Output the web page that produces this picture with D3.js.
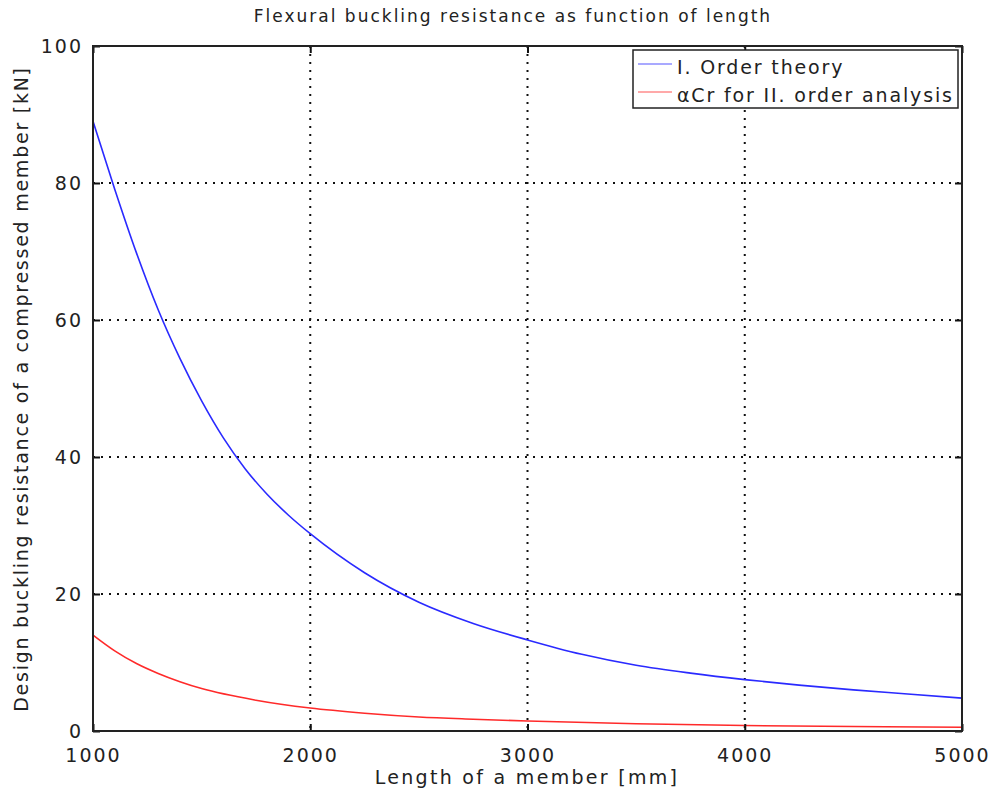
<!DOCTYPE html>
<html><head><meta charset="utf-8">
<script src="https://cdn.jsdelivr.net/npm/d3@7"></script>
<style>
body{margin:0;background:#fff;}
text{font-family:"DejaVu Sans",Verdana,sans-serif;fill:#222;}
</style></head>
<body>
<svg id="chart" width="999" height="796"></svg>
<script>
const lengths = [1000,1100,1200,1300,1400,1500,1600,1700,1800,1900,2000,2250,2500,2750,3000,3250,3500,3750,4000,4250,4500,4750,5000];
const firstOrder = [89,79.1,69.8,61.5,54.4,48.2,42.8,38.3,34.6,31.5,28.8,23.1,18.8,15.7,13.3,11.2,9.6,8.45,7.5,6.7,6.0,5.4,4.8];
const redLengths = [1000,1100,1200,1300,1400,1500,1750,2000,2250,2500,2750,3000,3500,4000,4500,5000];
const alphaCr = [14.0,11.7,9.85,8.4,7.2,6.2,4.5,3.35,2.6,2.05,1.72,1.45,1.05,0.8,0.65,0.55];
const xTicks = [1000,2000,3000,4000,5000];
const yTicks = [0,20,40,60,80,100];
const seriesNames = ["I. Order theory","\u03b1Cr for II. order analysis"];
const title = "Flexural buckling resistance as function of length";
const xLabel = "Length of a member [mm]";
const yLabel = "Design buckling resistance of a compressed member [kN]";

const svg = d3.select("#chart");
const L = 93, R = 962, T = 46, B = 731;
const x = d3.scaleLinear().domain([1000,5000]).range([L,R]);
const y = d3.scaleLinear().domain([0,100]).range([B,T]);

// grid
const g = svg.append("g");
g.selectAll(".gx").data(xTicks.slice(1,-1)).enter().append("line")
  .attr("x1",d=>x(d)).attr("x2",d=>x(d)).attr("y1",T).attr("y2",B)
  .attr("stroke","#111").attr("stroke-width",2).attr("stroke-dasharray","2,6");
g.selectAll(".gy").data(yTicks.slice(1,-1)).enter().append("line")
  .attr("y1",d=>y(d)).attr("y2",d=>y(d)).attr("x1",L).attr("x2",R)
  .attr("stroke","#111").attr("stroke-width",2).attr("stroke-dasharray","2,6");

// curves
const line = d3.line().curve(d3.curveMonotoneX);
svg.append("path").attr("d", line(lengths.map((l,i)=>[x(l),y(firstOrder[i])])))
  .attr("fill","none").attr("stroke","#2a2aff").attr("stroke-width",1.6);
svg.append("path").attr("d", line(redLengths.map((l,i)=>[x(l),y(alphaCr[i])])))
  .attr("fill","none").attr("stroke","#ff2a2a").attr("stroke-width",1.6);

// axes with inward ticks
const fmt = d3.format("d");
const xb = svg.append("g").attr("transform",`translate(0,${B})`)
  .call(d3.axisBottom(x).tickValues(xTicks).tickSize(-7).tickPadding(18).tickFormat(fmt));
const xt = svg.append("g").attr("transform",`translate(0,${T})`)
  .call(d3.axisTop(x).tickValues(xTicks).tickSize(-7).tickFormat(""));
const yl = svg.append("g").attr("transform",`translate(${L},0)`)
  .call(d3.axisLeft(y).tickValues(yTicks).tickSize(-7).tickPadding(10).tickFormat(fmt));
const yr = svg.append("g").attr("transform",`translate(${R},0)`)
  .call(d3.axisRight(y).tickValues(yTicks).tickSize(-7).tickFormat(""));
[xb,xt,yl,yr].forEach(a=>{
  a.select(".domain").remove();
  a.selectAll(".tick line").attr("stroke","#111").attr("stroke-width",2);
  a.selectAll("text").style("font-size","19px").style("letter-spacing","2px").attr("fill","#333");
});
xb.selectAll("text").attr("dy","0.71em");

// frame
svg.append("rect").attr("x",L).attr("y",T).attr("width",R-L).attr("height",B-T)
  .attr("fill","none").attr("stroke","#222").attr("stroke-width",2);

// title & labels
svg.append("text").attr("x",513).attr("y",22).attr("text-anchor","middle")
  .style("font-size","17px").style("letter-spacing","2px").text(title);
svg.append("text").attr("x",527).attr("y",784).attr("text-anchor","middle")
  .style("font-size","19px").style("letter-spacing","2.3px").text(xLabel);
svg.append("text").attr("transform","translate(28,389) rotate(-90)").attr("text-anchor","middle")
  .style("font-size","19px").style("letter-spacing","1.75px").text(yLabel);

// legend
const lg = svg.append("g");
lg.append("rect").attr("x",633).attr("y",50).attr("width",325).attr("height",58)
  .attr("fill","#fff").attr("stroke","#222").attr("stroke-width",1.5);
const legColors = ["#8c8cff","#ff8c8c"];
seriesNames.forEach((n,i)=>{
  const yy = 64 + i*28;
  lg.append("line").attr("x1",638).attr("x2",672).attr("y1",yy).attr("y2",yy)
    .attr("stroke",legColors[i]).attr("stroke-width",1.5);
  lg.append("text").attr("x",677).attr("y",yy+3).attr("dy","0.35em")
    .style("font-size","19px").style("letter-spacing","1.85px").text(n);
});
</script>
</body></html>
